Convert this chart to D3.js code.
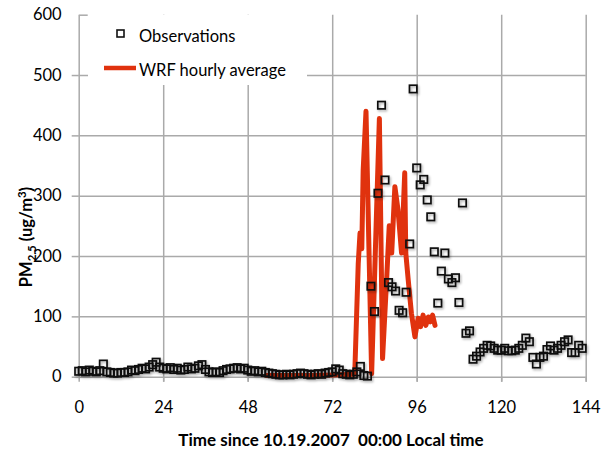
<!DOCTYPE html>
<html>
<head>
<meta charset="utf-8">
<script src="https://cdn.jsdelivr.net/npm/d3@7"></script>
<style>
  body { margin: 0; background: #fff; }
  svg text { font-family: Lato, "Open Sans", sans-serif; fill: #000; }
  .grid line { stroke: #aaa; stroke-width: 1.5; }
  .axis line, .axis path { stroke: #aaa; stroke-width: 1.5; }
</style>
</head>
<body>
<div id="chart"></div>
<script>
// hourly PM2.5 observations, hour 0 .. 143
const obsValues = [
  9, 10, 8, 11, 9, 8, 10, 21, 8, 7, 6, 6, 7, 7, 8, 11, 10, 12, 14, 13, 16, 20, 24, 16,
  14, 13, 15, 12, 14, 11, 12, 16, 13, 14, 18, 20, 12, 8, 7, 8, 7, 10, 12, 13, 14, 15, 13, 14,
  11, 9, 10, 8, 9, 7, 6, 5, 4, 3, 3, 4, 3, 4, 5, 6, 5, 4, 3, 4, 5, 4, 6, 7,
  8, 13, 11, 5, 4, 3, 4, 8, 17, 2, 1, 150, 108, 304, 450, 326, 156, 149, 142, 110, 106, 140,
  220, 477, 346, 318, 327, 293, 265, 207, 122, 175, 205, 162, 156, 164, 123, 288, 72, 76, 29, 34,
  41, 47, 52, 51, 47, 44, 44, 47, 43, 43, 44, 47, 52, 64, 58, 32, 21, 32, 34, 45, 51, 44, 47, 52,
  58, 61, 40, 40, 52, 47
];

// WRF model line (hours since start, ug/m3)
const modelHours = [
  53.4, 60, 66, 72, 78.4, 79.4, 79.9, 80.4, 80.8, 81.6, 83.2, 85.4, 86.3, 87.5, 88.2, 88.9,
  89.8, 90.7, 91.7, 92.6, 92.9, 93.6, 94.5, 95.5, 96.4, 97.1, 97.8, 98.6, 99.3, 99.9, 100.5, 101.2
];
const modelValues = [
  2, 2, 2, 3, 4, 188, 238, 212, 342, 440, 5, 428, 30, 166, 250, 205,
  315, 276, 205, 338, 205, 160, 105, 66, 97, 83, 102, 85, 99, 91, 102, 85
];

const xTicks = [0, 24, 48, 72, 96, 120, 144];
const yTicks = [0, 100, 200, 300, 400, 500, 600];

const svgWidth = 603, svgHeight = 450;
const margin = { top: 14.7, left: 78.7, right: 17.3, bottom: 73.3 };
const width = svgWidth - margin.left - margin.right;
const height = svgHeight - margin.top - margin.bottom;

const svg = d3.select("#chart").append("svg")
  .attr("width", svgWidth)
  .attr("height", svgHeight);

// soft shadow like the excel markers
const defs = svg.append("defs");
defs.append("filter").attr("id", "shadow")
  .attr("x", "-50%").attr("y", "-50%").attr("width", "200%").attr("height", "200%")
  .append("feDropShadow")
  .attr("dx", 1.2).attr("dy", 1.5).attr("stdDeviation", 0.9)
  .attr("flood-color", "#000").attr("flood-opacity", 0.35);

const g = svg.append("g").attr("transform", `translate(${margin.left},${margin.top})`);

const x = d3.scaleLinear().domain([0, 144]).range([0, width]);
const y = d3.scaleLinear().domain([0, 600]).range([height, 0]);

// gridlines (no line at the top value)
g.append("g").attr("class", "grid")
  .call(d3.axisLeft(y).tickValues(yTicks.slice(0, -1)).tickSize(-width).tickFormat(""))
  .call(s => s.select(".domain").remove());

g.append("g").attr("class", "grid")
  .attr("transform", `translate(0,${height})`)
  .call(d3.axisBottom(x).tickValues(xTicks.slice(1)).tickSize(height + 5).tickFormat(""))
  .call(s => s.select(".domain").remove())
  .call(s => s.selectAll(".tick line").attr("y1", 5).attr("y2", -height));

// y axis
g.append("g").attr("class", "axis")
  .call(d3.axisLeft(y).tickValues(yTicks).tickSize(7).tickPadding(10).tickSizeOuter(0))
  .call(s => s.selectAll("text").attr("font-size", 16.5))
  .call(s => s.select(".tick:last-of-type line").attr("x2", 9));

// x axis labels
g.append("g").attr("class", "axis")
  .attr("transform", `translate(0,${height})`)
  .call(d3.axisBottom(x).tickValues(xTicks).tickSize(5).tickPadding(20).tickSizeOuter(0))
  .call(s => s.select(".domain").remove())
  .call(s => s.selectAll("text").attr("font-size", 16.5));

// legend box hides the grid behind it
const legend = g.append("g").attr("transform", `translate(${88 - margin.left},${15 - margin.top})`);
legend.append("rect").attr("width", 219).attr("height", 70).attr("fill", "#fff");
legend.append("rect")
  .attr("x", 29).attr("y", 15).attr("width", 7).attr("height", 7)
  .attr("fill", "none").attr("stroke", "#111").attr("stroke-width", 1.6);
legend.append("text").attr("x", 51).attr("y", 27).attr("font-size", 16.5).text("Observations");
legend.append("line")
  .attr("x1", 16).attr("x2", 48).attr("y1", 53).attr("y2", 53)
  .attr("stroke", "#e0320e").attr("stroke-width", 4.5);
legend.append("text").attr("x", 51).attr("y", 61).attr("font-size", 16.5).text("WRF hourly average");

// model line
const line = d3.line()
  .x((d, i) => x(modelHours[i]))
  .y(d => y(d));

g.append("path")
  .datum(modelValues)
  .attr("d", line)
  .attr("fill", "none")
  .attr("stroke", "#e0320e")
  .attr("stroke-width", 5)
  .attr("stroke-linejoin", "round")
  .attr("stroke-linecap", "round");

// observation squares
const sq = 7.4;
g.append("g").attr("filter", "url(#shadow)")
  .selectAll("rect")
  .data(obsValues)
  .join("rect")
  .attr("x", (d, i) => x(i) - sq / 2)
  .attr("y", d => y(d) - sq / 2)
  .attr("width", sq)
  .attr("height", sq)
  .attr("fill", "none")
  .attr("stroke", "#111")
  .attr("stroke-width", 1.7);

// axis titles
svg.append("text")
  .attr("x", 331).attr("y", 446)
  .attr("text-anchor", "middle")
  .attr("font-size", 17)
  .attr("font-weight", "bold")
  .attr("xml:space", "preserve")
  .text("Time since 10.19.2007  00:00 Local time");

const yTitle = svg.append("text")
  .attr("transform", "translate(32,237) rotate(-90)")
  .attr("text-anchor", "middle")
  .attr("font-size", 16.5)
  .attr("font-weight", "bold");
yTitle.append("tspan").text("PM");
yTitle.append("tspan").attr("font-size", 11.5).attr("dy", 4).text("2.5");
yTitle.append("tspan").attr("dy", -4).text(" (ug/m");
yTitle.append("tspan").attr("font-size", 11.5).attr("dy", -6).text("3");
yTitle.append("tspan").attr("dy", 6).text(")");
</script>
</body>
</html>
